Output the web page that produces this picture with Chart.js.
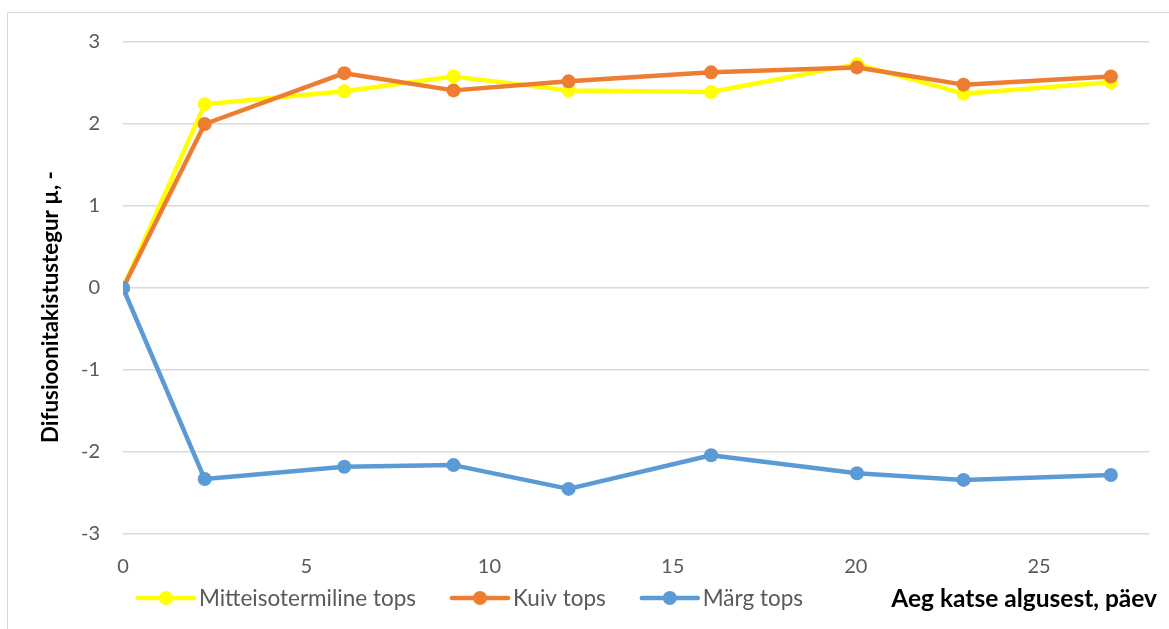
<!DOCTYPE html>
<html>
<head>
<meta charset="utf-8">
<script src="https://cdn.jsdelivr.net/npm/chart.js@4.4.1/dist/chart.umd.min.js"></script>
<style>
    html, body { margin: 0; padding: 0; background: #fff; }
    #wrap { position: relative; width: 1169px; height: 629px; overflow: hidden; }
    #frame { position: absolute; left: 7px; top: 12px; width: 1300px; height: 800px; border: 1.5px solid #d9d9d9; }
    #diffChart { position: absolute; left: 0; top: 0; }
</style>
</head>
<body>
<div id="wrap">
    <div id="frame"></div>
    <canvas id="diffChart" width="1169" height="629"></canvas>
</div>
<script>
    // katse aeg, päevades
    const days = [0, 2.23, 6.04, 9.02, 12.16, 16.05, 20.03, 22.94, 26.96];
    // difusioonitakistustegur
    const mitteisotermiline = [0, 2.24, 2.40, 2.58, 2.41, 2.39, 2.73, 2.37, 2.51];
    const kuiv = [0, 2.00, 2.62, 2.41, 2.52, 2.63, 2.69, 2.48, 2.58];
    const marg = [0, -2.33, -2.18, -2.16, -2.45, -2.04, -2.26, -2.34, -2.28];

    const seriesNames = ['Mitteisotermiline tops', 'Kuiv tops', 'Märg tops'];
    const seriesColors = ['#ffff00', '#ed7d31', '#5b9bd5'];
    const xTitle = 'Aeg katse algusest, päev';
    const yTitle = 'Difusioonitakistustegur µ, -';

    const FONT = 'Lato, "Open Sans", sans-serif';

    function toPoints(ys) {
        return ys.map((y, i) => ({x: days[i], y: y}));
    }

    // legend + axis titles drawn straight on the canvas
    const extras = {
        id: 'extras',
        afterDraw(chart) {
            const c = chart.ctx;
            c.save();

            // legend row
            c.font = '22.5px ' + FONT;
            c.textBaseline = 'middle';
            let x = 138;
            const y = 598;
            chart.data.datasets.forEach(ds => {
                c.strokeStyle = ds.borderColor;
                c.lineWidth = 4.5;
                c.lineCap = 'round';
                c.beginPath();
                c.moveTo(x, y);
                c.lineTo(x + 56, y);
                c.stroke();
                c.fillStyle = ds.borderColor;
                c.beginPath();
                c.arc(x + 28, y, 7, 0, Math.PI * 2);
                c.fill();
                c.fillStyle = '#595959';
                c.textAlign = 'left';
                c.fillText(ds.label, x + 61, y + 1);
                x += 61 + c.measureText(ds.label).width + 36;
            });

            // x title
            c.font = 'bold 24.5px ' + FONT;
            c.fillStyle = '#000';
            c.textAlign = 'right';
            c.fillText(xTitle, 1157, y + 1);

            // y title
            c.font = 'bold 22.3px ' + FONT;
            c.translate(51, 307);
            c.rotate(-Math.PI / 2);
            c.textAlign = 'center';
            c.fillText(yTitle, 0, 0);

            c.restore();
        }
    };

    const ctx = document.getElementById('diffChart').getContext('2d');

    const diffChart = new Chart(ctx, {
        type: 'line',
        data: {
            datasets: [{
                label: seriesNames[0],
                data: toPoints(mitteisotermiline),
                borderColor: seriesColors[0],
                backgroundColor: seriesColors[0],
                order: 3
            },
                {
                    label: seriesNames[1],
                    data: toPoints(kuiv),
                    borderColor: seriesColors[1],
                    backgroundColor: seriesColors[1],
                    order: 2
                },
                {
                    label: seriesNames[2],
                    data: toPoints(marg),
                    borderColor: seriesColors[2],
                    backgroundColor: seriesColors[2],
                    order: 1
                }]
        },
        options: {
            responsive: false,
            animation: false,
            events: [],
            elements: {
                line: {borderWidth: 4.5, tension: 0, borderJoinStyle: 'round', borderCapStyle: 'round'},
                point: {radius: 7, borderWidth: 0}
            },
            layout: {
                padding: {top: 42, right: 20, bottom: 0, left: 0}
            },
            plugins: {
                legend: {display: false},
                tooltip: {enabled: false}
            },
            scales: {
                x: {
                    type: 'linear',
                    min: 0,
                    max: 28,
                    grid: {display: false},
                    border: {display: false},
                    afterFit: scale => { scale.height = 95; },
                    ticks: {
                        stepSize: 5,
                        padding: 13,
                        color: '#595959',
                        font: {family: FONT, size: 20},
                        callback: v => (v % 5 === 0 ? v : '')
                    }
                },
                y: {
                    min: -3,
                    max: 3,
                    grid: {color: '#d9d9d9', lineWidth: 1.5, drawTicks: false},
                    border: {display: false},
                    afterFit: scale => { scale.width = 123; },
                    ticks: {
                        stepSize: 1,
                        padding: 23,
                        color: '#595959',
                        font: {family: FONT, size: 20}
                    }
                }
            }
        },
        plugins: [extras]
    });
</script>
</body>
</html>
